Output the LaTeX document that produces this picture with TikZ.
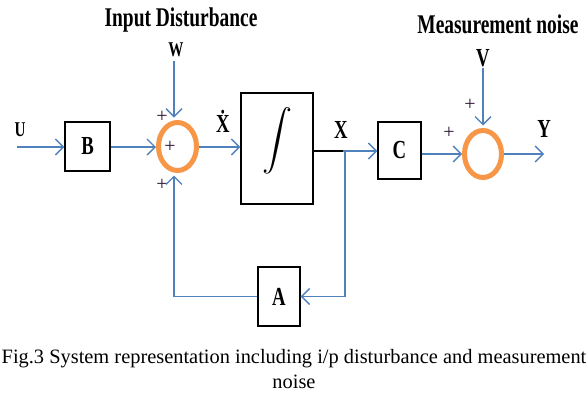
\documentclass[tikz,border=0pt]{standalone}
\usepackage{fontspec}
\setmainfont{Liberation Serif}
\newfontfamily\condfont{Liberation Serif}[FakeStretch=0.72]
\usetikzlibrary{arrows.meta,shapes.geometric}
\definecolor{lblue}{RGB}{79,129,189}
\definecolor{sumorange}{RGB}{247,150,70}
\definecolor{plusc}{RGB}{45,20,55}
\begin{document}
\begin{tikzpicture}[x=1pt,y=-1pt,
  sig/.style={draw=lblue,line width=1.3pt,-{Straight Barb[length=8pt,width=16pt]}},
  wire/.style={draw=black,line width=1.3pt},
  blk/.style={draw=black,line width=1.4pt,inner sep=0pt},
  sumc/.style={ellipse,draw=sumorange,line width=5pt,inner sep=0pt},
  lbl/.style={font=\condfont\bfseries\fontsize{26}{26}\selectfont,inner sep=0pt},
  sml/.style={font=\condfont\bfseries\fontsize{21}{21}\selectfont,inner sep=0pt},
  ttl/.style={font=\condfont\bfseries\fontsize{27}{27}\selectfont,inner sep=0pt},
  pls/.style={font=\fontsize{20}{20}\selectfont,text=plusc,inner sep=0pt},
  captxt/.style={font=\fontsize{20.4}{24}\selectfont,anchor=base,inner sep=0pt},
]
\useasboundingbox[fill=white] (0,0) rectangle (588,394);

% titles and labels
\node[ttl] (tin) at (181,20) {Input Disturbance};
\node[ttl] (tmn) at (498,24) {Measurement noise};
\node[sml] (lW) at (176,50) {W};
\node[sml] (lU) at (20,130) {U};
\node[lbl] (lXd) at (223,121) {\.{X}};
\node[lbl] (lX) at (341,130) {X};
\node[lbl] (lY) at (544,129) {Y};
\node[lbl] (lV) at (483,58) {V};

% blocks
\node[blk,minimum width=45pt,minimum height=49pt,lbl] (B) at (87.5,146.5) {B};
\node[blk,minimum width=72pt,minimum height=111pt] (integ) at (277,148.5) {};
\node[scale=3] (intsym) at (277,141) {$\displaystyle\int$};
\node[blk,minimum width=43pt,minimum height=57pt,lbl] (C) at (399.5,150.5) {C};
\node[blk,minimum width=42pt,minimum height=59pt,lbl] (A) at (279,296.5) {A};

% summing junctions
\node[sumc,minimum width=38pt,minimum height=48pt] (sum1) at (177.5,146.5) {};
\node[sumc,minimum width=37pt,minimum height=47pt] (sum2) at (483,154) {};

% plus signs
\node[pls] (p1) at (170,147) {+};
\node[pls] (p2) at (162,117) {+};
\node[pls] (p3) at (162,185) {+};
\node[pls] (p4) at (449,133) {+};
\node[pls] (p5) at (470,105) {+};

% connectors
\coordinate (uin) at (17,147);
\coordinate (wtop) at (174,61);
\coordinate (xjn) at (343,151);
\coordinate (xbr) at (345,151);
\coordinate (fbl) at (174,296.5);
\coordinate (vtop) at (483,68);
\coordinate (yout) at (544,154);

\draw[sig] (uin) -- (uin -| B.west);
\draw[sig] (B.east |- uin) -- (uin -| sum1.west);
\draw[sig,shorten >=2.5pt] (wtop) -- (wtop |- sum1.north);
\draw[sig] (uin -| sum1.east) -- (uin -| integ.west);
\draw[wire] (integ.east |- xjn) -- (xjn);
\draw[sig] (xjn) -- (xjn -| C.west);
\draw[sig] (xbr) -- (xbr |- A.east) -- (A.east);
\draw[sig,shorten >=2.5pt] (A.west) -- (fbl) -- (fbl |- sum1.south);
\draw[sig] (sum2.west -| C.east) -- (sum2.west);
\draw[sig,shorten >=2.5pt] (vtop) -- (vtop |- sum2.north);
\draw[sig] (sum2.east) -- (yout);

% caption
\node[captxt] (cap1) at (294,363) {Fig.3 System representation including i/p disturbance and measurement};
\node[captxt] (cap2) at (294,388) {noise};
\end{tikzpicture}
\end{document}
